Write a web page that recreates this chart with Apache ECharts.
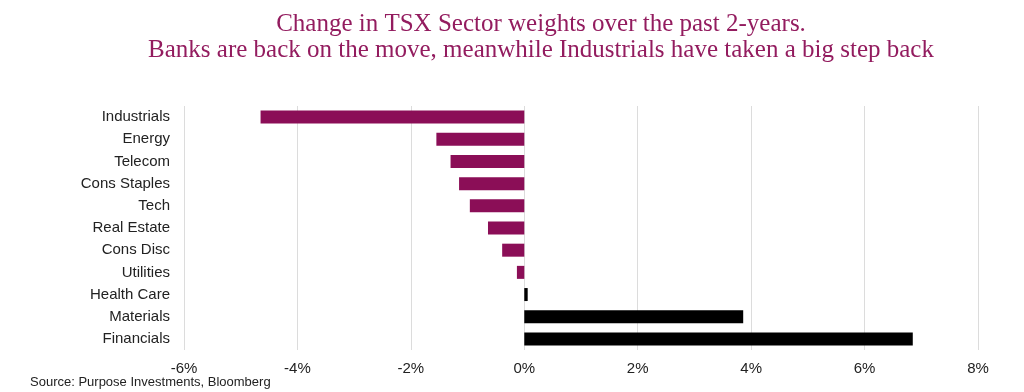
<!DOCTYPE html>
<html>
<head>
<meta charset="utf-8">
<script src="https://cdn.jsdelivr.net/npm/echarts@6/dist/echarts.min.js"></script>
<style>
    html, body { margin: 0; padding: 0; background: #fff; }
    #chart { width: 1024px; height: 392px; }
</style>
</head>
<body>
<div id="chart"></div>
<script>
    // sectors, top to bottom
    const sectors = ['Industrials', 'Energy', 'Telecom', 'Cons Staples', 'Tech', 'Real Estate',
        'Cons Disc', 'Utilities', 'Health Care', 'Materials', 'Financials'];
    // change in weight, %
    const weightChange = [-4.65, -1.55, -1.30, -1.15, -0.96, -0.64, -0.39, -0.13, 0.06, 3.86, 6.85];
    const xTicks = [-6, -4, -2, 0, 2, 4, 6, 8];

    const purple = '#8b0e57';

    let chart = echarts.init(document.getElementById('chart'));
    let option = {
        animation: false,
        textStyle: { fontFamily: 'Liberation Sans, Arial, sans-serif' },
        title: [{
            text: 'Change in TSX Sector weights over the past 2-years.\nBanks are back on the move, meanwhile Industrials have taken a big step back',
            left: 536,
            top: 6,
            textAlign: 'center',
            textStyle: {
                fontFamily: 'Liberation Serif, Times New Roman, serif',
                fontWeight: 'normal',
                fontSize: 25,
                lineHeight: 26,
                color: '#931c5f'
            }
        }, {
            text: 'Source: Purpose Investments, Bloomberg',
            left: 25,
            top: 371,
            textStyle: {
                fontWeight: 'normal',
                fontSize: 13,
                color: '#222'
            }
        }],
        grid: {
            left: 184,
            right: 46,
            top: 106,
            height: 244
        },
        xAxis: {
            type: 'value',
            min: xTicks[0],
            max: xTicks[xTicks.length - 1],
            interval: 2,
            axisLine: { show: false },
            axisTick: { show: false },
            splitLine: { lineStyle: { color: '#dcdcdc', width: 1 } },
            axisLabel: {
                formatter: v => v + '%',
                fontSize: 15,
                color: '#222',
                margin: 11
            }
        },
        yAxis: {
            type: 'category',
            data: sectors,
            inverse: true,
            axisLine: { show: false },
            axisTick: { show: false },
            axisLabel: {
                fontSize: 15,
                color: '#222',
                margin: 14
            }
        },
        series: [{
            type: 'bar',
            data: weightChange,
            barWidth: 13,
            itemStyle: {
                color: p => p.value < 0 ? purple : '#000'
            }
        }]
    };
    chart.setOption(option);
</script>
</body>
</html>
